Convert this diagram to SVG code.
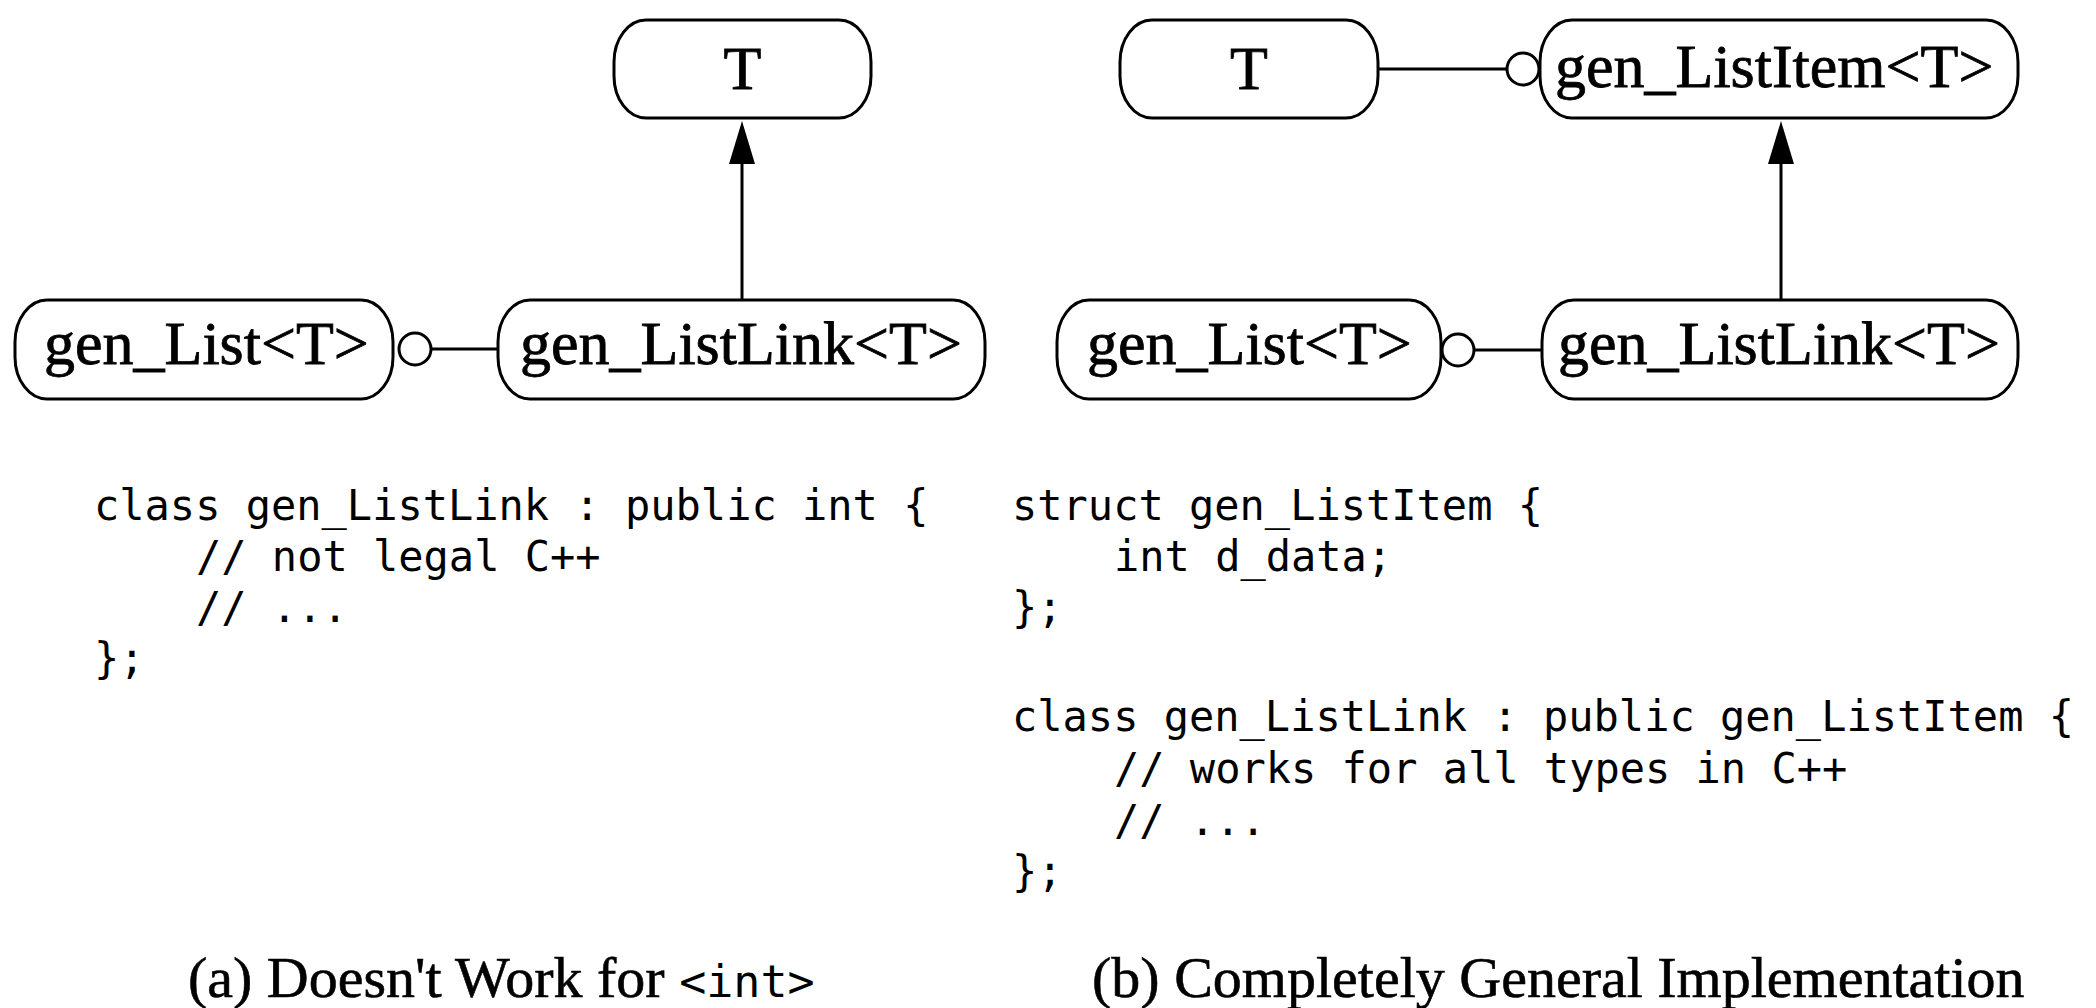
<svg xmlns="http://www.w3.org/2000/svg" width="2096" height="1008" viewBox="0 0 2096 1008">
<style>
.node{fill:#fff;stroke:#000;stroke-width:3}
.lbl{font-family:"Liberation Serif","Times New Roman",serif;font-size:62px;fill:#000;stroke:#000;stroke-width:0.8}
.conn{stroke:#000;stroke-width:3;fill:none}
.ball{fill:#fff;stroke:#000;stroke-width:3}
.head{fill:#000}
.code{font-family:"DejaVu Sans Mono","Liberation Mono",monospace;font-size:42px;fill:#000;white-space:pre}
.cap{font-family:"Liberation Serif","Times New Roman",serif;font-size:58px;fill:#000;stroke:#000;stroke-width:0.6}
.capcode{font-family:"DejaVu Sans Mono","Liberation Mono",monospace;font-size:45px;stroke:none}
</style>
<rect width="2096" height="1008" fill="#fff"/>
<g id="connectors">
  <line class="conn" x1="742" y1="300" x2="742" y2="160"/>
  <polygon class="head" points="742,121 729,164 755,164"/>
  <line class="conn" x1="431" y1="349" x2="498" y2="349"/>
  <circle class="ball" cx="415" cy="349" r="16"/>
  <line class="conn" x1="1378" y1="69" x2="1507" y2="69"/>
  <circle class="ball" cx="1523" cy="69" r="16"/>
  <line class="conn" x1="1781" y1="300" x2="1781" y2="160"/>
  <polygon class="head" points="1781,121 1768,164 1794,164"/>
  <line class="conn" x1="1474" y1="350" x2="1542" y2="350"/>
  <circle class="ball" cx="1458" cy="350" r="16"/>
</g>
<g id="a-T">
  <rect class="node" x="614" y="20" width="257" height="98" rx="32" ry="42"/>
  <text class="lbl" x="742.5" y="89" text-anchor="middle">T</text>
</g>
<g id="a-gen_List">
  <rect class="node" x="15" y="300" width="378" height="99" rx="32" ry="42"/>
  <text class="lbl" x="44" y="364">gen_List&lt;T&gt;</text>
</g>
<g id="a-gen_ListLink">
  <rect class="node" x="498" y="300" width="487" height="99" rx="32" ry="42"/>
  <text class="lbl" x="520" y="364">gen_ListLink&lt;T&gt;</text>
</g>
<g id="b-T">
  <rect class="node" x="1120" y="20" width="258" height="98" rx="32" ry="42"/>
  <text class="lbl" x="1249" y="89" text-anchor="middle">T</text>
</g>
<g id="b-gen_ListItem">
  <rect class="node" x="1540" y="20" width="478" height="98" rx="32" ry="42"/>
  <text class="lbl" x="1555" y="87">gen_ListItem&lt;T&gt;</text>
</g>
<g id="b-gen_List">
  <rect class="node" x="1057" y="300" width="384" height="99" rx="32" ry="42"/>
  <text class="lbl" x="1087" y="364">gen_List&lt;T&gt;</text>
</g>
<g id="b-gen_ListLink">
  <rect class="node" x="1542" y="300" width="476" height="99" rx="32" ry="42"/>
  <text class="lbl" x="1558" y="364">gen_ListLink&lt;T&gt;</text>
</g>
<g id="code-a">
  <text class="code" x="94" y="520">class gen_ListLink : public int {</text>
  <text class="code" x="196" y="571">// not legal C++</text>
  <text class="code" x="196" y="622">// ...</text>
  <text class="code" x="94" y="673">};</text>
</g>
<g id="code-b">
  <text class="code" x="1012" y="520">struct gen_ListItem {</text>
  <text class="code" x="1114" y="571">int d_data;</text>
  <text class="code" x="1012" y="622">};</text>
  <text class="code" x="1012" y="731">class gen_ListLink : public gen_ListItem {</text>
  <text class="code" x="1114" y="783">// works for all types in C++</text>
  <text class="code" x="1114" y="835">// ...</text>
  <text class="code" x="1012" y="886">};</text>
</g>
<g id="captions">
  <text class="cap" x="188" y="997">(a) Doesn't Work for <tspan class="capcode">&lt;int&gt;</tspan></text>
  <text class="cap" x="1092" y="997">(b) Completely General Implementation</text>
</g>
</svg>
